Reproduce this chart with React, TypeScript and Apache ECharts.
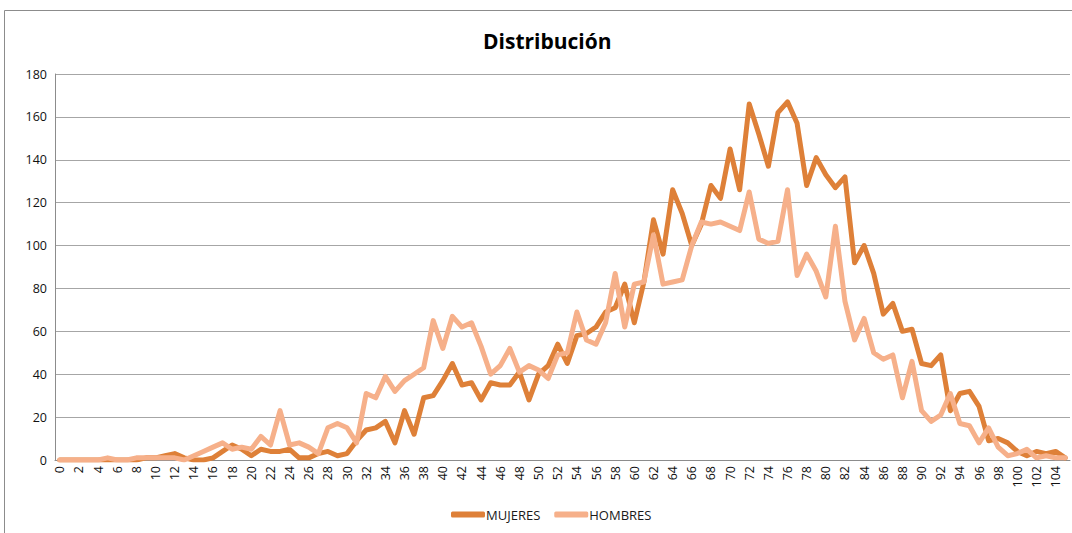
import React, { useEffect, useRef } from "react";
import * as echarts from "echarts";

const categories: string[] = Array.from({ length: 106 }, (_, i) => String(i));

const mujeres: number[] = [
  0, 0, 0, 0, 0, 0, 0, 0, 0, 1,
  1, 2, 3, 1, 0, 0, 1, 4, 7, 5,
  2, 5, 4, 4, 5, 1, 1, 3, 4, 2,
  3, 9, 14, 15, 18, 8, 23, 12, 29, 30,
  37, 45, 35, 36, 28, 36, 35, 35, 41, 28,
  40, 44, 54, 45, 58, 59, 62, 69, 71, 82,
  64, 83, 112, 96, 126, 115, 100, 110, 128, 122,
  145, 126, 166, 152, 137, 162, 167, 157, 128, 141,
  133, 127, 132, 92, 100, 87, 68, 73, 60, 61,
  45, 44, 49, 23, 31, 32, 25, 9, 10, 8,
  4, 2, 4, 3, 4, 1,
];

const hombres: number[] = [
  0, 0, 0, 0, 0, 1, 0, 0, 1, 1,
  1, 1, 1, 0, 2, 4, 6, 8, 5, 6,
  5, 11, 7, 23, 7, 8, 6, 3, 15, 17,
  15, 8, 31, 29, 39, 32, 37, 40, 43, 65,
  52, 67, 62, 64, 53, 40, 44, 52, 41, 44,
  42, 38, 49, 50, 69, 56, 54, 64, 87, 62,
  82, 83, 105, 82, 83, 84, 100, 111, 110, 111,
  109, 107, 125, 103, 101, 102, 126, 86, 96, 88,
  76, 109, 74, 56, 66, 50, 47, 49, 29, 46,
  23, 18, 21, 31, 17, 16, 8, 15, 6, 2,
  3, 5, 1, 2, 1, 1,
];

const seriesNames = ["MUJERES", "HOMBRES"];
const colors = ["#DE8038", "#F6B08A"];

export default function App() {
  const ref = useRef<HTMLDivElement>(null);
  useEffect(() => {
    document.body.style.margin = "0";
    const chart = echarts.init(ref.current!, null, { renderer: "svg" });
    const font = "Open Sans, Liberation Sans, sans-serif";
    chart.setOption({
      animation: false,
      backgroundColor: "#ffffff",
      textStyle: { fontFamily: font },
      title: {
        text: "Distribución",
        left: 478,
        top: 25,
        textStyle: { fontSize: 21, fontWeight: "bold", color: "#000", fontFamily: font },
      },
      graphic: [
        {
          type: "rect",
          shape: { x: 4.5, y: 10.5, width: 1100, height: 600 },
          style: { fill: "none", stroke: "#8c8c8c", lineWidth: 1 },
          silent: true,
        },
      ],
      legend: {
        bottom: 7,
        left: 446,
        icon: "roundRect",
        itemWidth: 34,
        itemHeight: 6,
        itemGap: 14,
        data: seriesNames,
        textStyle: { fontSize: 13, color: "#1a1a1a", padding: [0, 0, 0, -4] },
      },
      grid: { left: 55, right: 2, top: 74, bottom: 73, containLabel: false },
      xAxis: {
        type: "category",
        data: categories,
        boundaryGap: true,
        axisLine: { lineStyle: { color: "#8c8c8c" } },
        axisTick: { show: false },
        axisLabel: {
          interval: 1,
          rotate: 90,
          fontSize: 12.5,
          color: "#111",
          margin: 6,
        },
      },
      yAxis: {
        type: "value",
        min: 0,
        max: 180,
        interval: 20,
        axisLine: { show: true, lineStyle: { color: "#8c8c8c" } },
        axisTick: { show: false },
        axisLabel: { fontSize: 12.5, color: "#111", margin: 8 },
        splitLine: { lineStyle: { color: "#a6a6a6", width: 1 } },
      },
      series: [
        {
          name: seriesNames[0],
          type: "line",
          data: mujeres,
          showSymbol: false,
          symbol: "none",
          color: colors[0],
          lineStyle: { width: 5, color: colors[0], join: "round", cap: "round" },
        },
        {
          name: seriesNames[1],
          type: "line",
          data: hombres,
          showSymbol: false,
          symbol: "none",
          color: colors[1],
          lineStyle: { width: 5, color: colors[1], join: "round", cap: "round" },
        },
      ],
    });
    return () => chart.dispose();
  }, []);
  return <div ref={ref} style={{ width: 1072, height: 533 }} />;
}
